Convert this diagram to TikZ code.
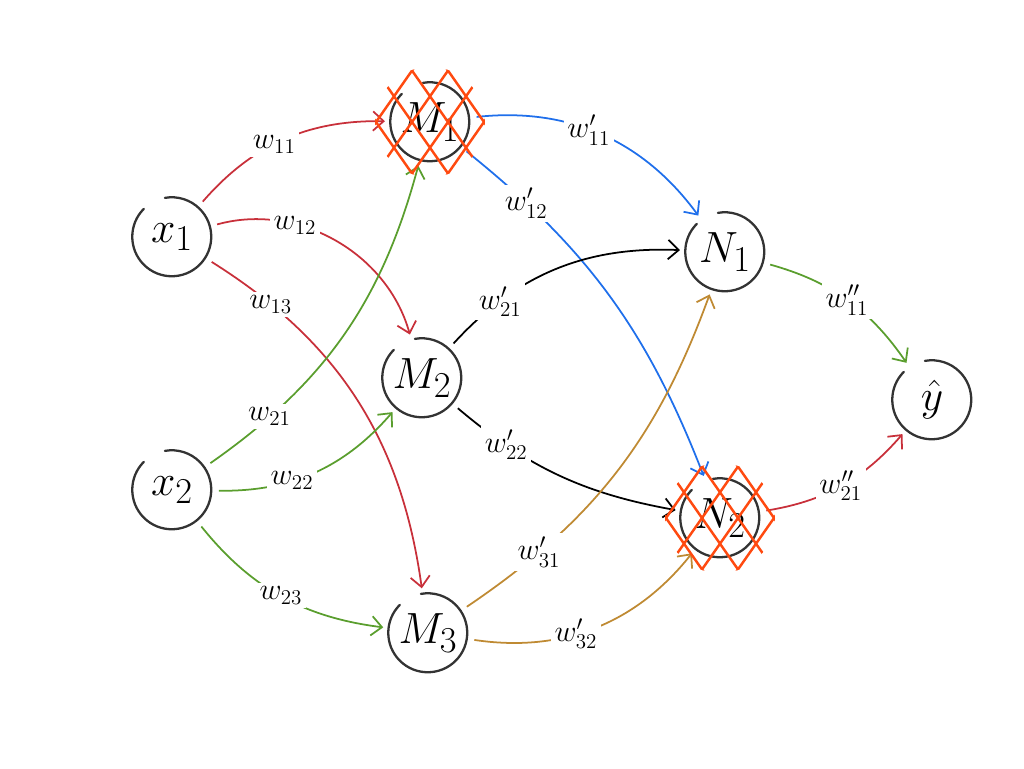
\documentclass[tikz,border=0pt]{standalone}
\usepackage[dvipsnames,svgnames,x11names]{xcolor}
\definecolor{nnred}{HTML}{C8303A}
\definecolor{nngreen}{HTML}{5A9E2E}
\definecolor{nnblue}{HTML}{1F6FEB}
\definecolor{nngold}{HTML}{BF8A33}
\definecolor{nndrop}{HTML}{FF4A10}
\definecolor{nnink}{HTML}{333333}
\usepackage{tikz}
\usetikzlibrary{arrows.meta}
\usepackage{amsmath}

\tikzset{
  neuron/.style={circle, minimum size=1.58cm, inner sep=0pt, font=\Huge},
  ring/.style={draw=nnink, line width=1.3pt, line cap=round},
  wire/.style={line width=1pt, -{Straight Barb[length=6pt,width=11pt]},
               shorten <=4pt, shorten >=3pt},
  wlabel/.style={fill=white, text=black, inner sep=2pt, font=\LARGE},
  dropped/.style={draw=nndrop, line width=1.4pt},
}

% hatch a dropped-out unit
\newcommand{\dropunit}[1]{%
  \begin{scope}[shift={(#1)}]
    \clip (0,0) circle [radius=1.1cm];
    \foreach \d in {-54,-18,18,54} {
      \draw[dropped] (\d-49,-70) -- (\d+49,70);
      \draw[dropped] (\d-49,70) -- (\d+49,-70);
    }
  \end{scope}}

\begin{document}
\begin{tikzpicture}[x=0.02cm, y=-0.02cm]
  \useasboundingbox (0,0) rectangle (1024,768);

  % units
  \node[neuron] (x1) at (172,237) {$x_1$};
  \node[neuron] (x2) at (172,490) {$x_2$};
  \node[neuron] (M1) at (430,122) {$M_1$};
  \node[neuron] (M2) at (422,378) {$M_2$};
  \node[neuron] (M3) at (428,633) {$M_3$};
  \node[neuron] (N1) at (725,252) {$N_1$};
  \node[neuron] (N2) at (720,518) {$N_2$};
  \node[neuron] (yh) at (932,400) {$\hat{y}$};

  % hand-drawn rings, open at the top
  \foreach \u in {x1,x2,M1,M2,M3,N1,N2,yh}
    \draw[ring] (\u.135) arc[start angle=135, delta angle=325, radius=0.79cm];

  % input -> hidden 1
  \draw[wire, nnred] (x1) to[bend left=25] node[wlabel, pos=.45] {$w_{11}$} (M1);
  \draw[wire, nnred] (x1) to[bend left=45] node[wlabel, pos=.33] {$w_{12}$} (M2);
  \draw[wire, nnred] (x1) to[bend left=25] node[wlabel, pos=.18] {$w_{13}$} (M3);
  \draw[wire, nngreen] (x2) to[bend right=20] node[wlabel, pos=.2] {$w_{21}$} (M1);
  \draw[wire, nngreen] (x2) to[bend right=25] node[wlabel, pos=.38] {$w_{22}$} (M2);
  \draw[wire, nngreen] (x2) to[bend right=22] node[wlabel, pos=.5] {$w_{23}$} (M3);

  % hidden 1 -> hidden 2
  \draw[wire, nnblue] (M1) to[bend left=30] node[wlabel, pos=.45] {$w'_{11}$} (N1);
  \draw[wire, nnblue] (M1) to[bend left=15] node[wlabel, pos=.19] {$w'_{12}$} (N2);
  \draw[wire, black] (M2) to[bend left=25] node[wlabel, pos=.25] {$w'_{21}$} (N1);
  \draw[wire, black] (M2) to[bend right=15] node[wlabel, pos=.25] {$w'_{22}$} (N2);
  \draw[wire, nngold] (M3) to[bend right=18] node[wlabel, pos=.22] {$w'_{31}$} (N1);
  \draw[wire, nngold] (M3) to[bend right=30] node[wlabel, pos=.42] {$w'_{32}$} (N2);

  % hidden 2 -> output
  \draw[wire, nngreen] (N1) to[bend left=20] node[wlabel, pos=.5] {$w''_{11}$} (yh);
  \draw[wire, nnred] (N2) to[bend right=20] node[wlabel, pos=.5] {$w''_{21}$} (yh);

  % dropout
  \dropunit{M1}
  \dropunit{N2}
\end{tikzpicture}
\end{document}
